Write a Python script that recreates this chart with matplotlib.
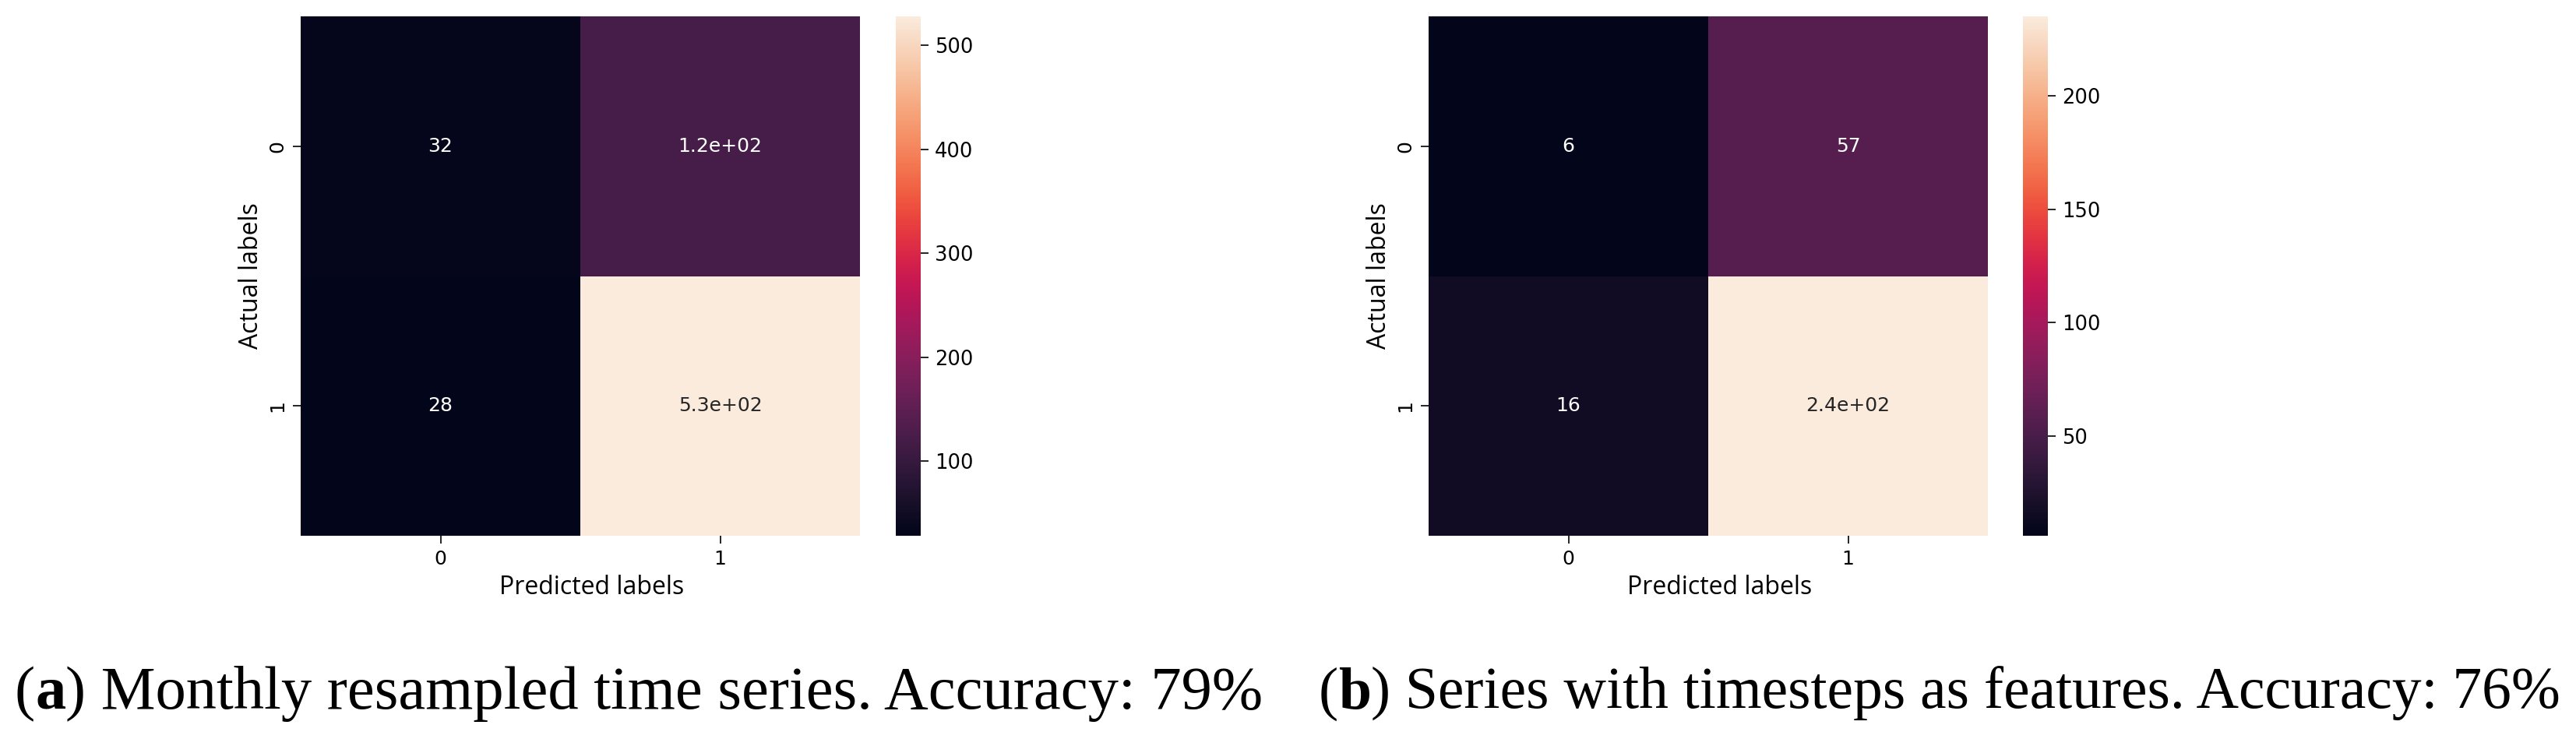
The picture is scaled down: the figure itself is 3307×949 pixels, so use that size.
import numpy as np
import matplotlib
matplotlib.use("Agg")
import matplotlib.pyplot as plt
import seaborn as sns

# confusion matrices
labels = [0, 1]
cm_monthly = [[32, 120],
              [28, 528]]
cm_timesteps = [[6, 57],
                [16, 235]]
captions = [("a", " Monthly resampled time series. Accuracy: 79%"),
            ("b", " Series with timesteps as features. Accuracy: 76%")]

W, H = 3307, 949
fig = plt.figure(figsize=(W / 100, H / 100), dpi=100)

label_font = "Open Sans"
cap_font = "Liberation Serif"


def draw_cm(cm, left, cbar_left):
    ax = fig.add_axes([left / W, (H - 688) / H, 718 / W, 667 / H])
    cax = fig.add_axes([cbar_left / W, (H - 688) / H, 32 / W, 667 / H])
    sns.heatmap(np.array(cm), annot=True, ax=ax, cbar_ax=cax,
                xticklabels=labels, yticklabels=labels,
                annot_kws={"size": 18})
    ax.tick_params(labelsize=18, length=7, width=1.2, pad=6)
    cax.tick_params(labelsize=18.5, length=7, width=1.2, pad=6)
    ax.set_xlabel("Predicted labels", fontsize=23, family=label_font)
    ax.set_ylabel("Actual labels", fontsize=23, family=label_font)
    ax.xaxis.label.set_va("center")
    ax.yaxis.label.set_va("center")
    ax.xaxis.set_label_coords(0.52, -0.10)
    ax.yaxis.set_label_coords(-0.089, 0.5)
    return ax


draw_cm(cm_monthly, 386, 1150)
draw_cm(cm_timesteps, 1834, 2597)


def caption(x0, x1, letter, rest, size=56):
    # "(" + bold letter + ") text", pieces chained one after the other
    t0 = fig.text(x0 / W, (H - 910) / H, "(", fontsize=size, family=cap_font,
                  va="baseline")
    t1 = fig.add_artist(plt.Annotation(letter, xy=(1, 0), xycoords=t0, va="bottom",
                                       fontsize=size, family=cap_font,
                                       fontweight="bold"))
    t2 = fig.add_artist(plt.Annotation(")" + rest, xy=(1, 0), xycoords=t1,
                                       va="bottom", fontsize=size, family=cap_font))
    # fit the whole line to the width it takes in the picture
    fig.canvas.draw()
    r = fig.canvas.get_renderer()
    left = t0.get_window_extent(r).x0
    right = t2.get_window_extent(r).x1
    new = size * (x1 - x0) / (right - left)
    for t in (t0, t1, t2):
        t.set_fontsize(new)


caption(19, 1620, *captions[0])
caption(1693, 3287, *captions[1])

fig.savefig("out.png", dpi=100)
